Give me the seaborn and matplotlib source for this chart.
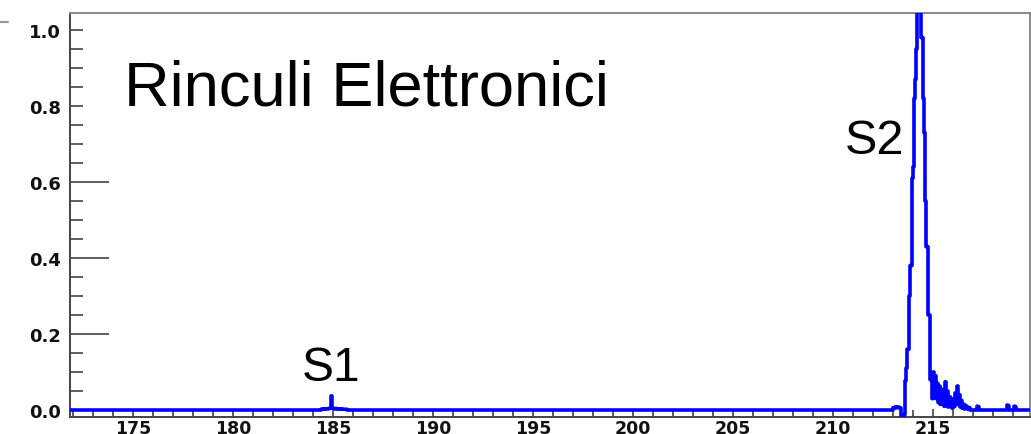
import numpy as np
import pandas as pd
import matplotlib
matplotlib.use("Agg")
import matplotlib.pyplot as plt
import seaborn as sns
from matplotlib.ticker import MultipleLocator, FormatStrFormatter
from matplotlib.patches import Rectangle
from matplotlib.lines import Line2D

# Histogram binning (drift time axis)
x_min, x_max = 171.85, 219.85
bin_width = 0.05

# S1 pulse: left bin edges and contents
s1_edges = [184.40, 184.45, 184.50, 184.55, 184.60, 184.65, 184.70, 184.75, 184.80, 184.85,
            184.90, 184.95, 185.00, 185.05, 185.10, 185.15, 185.20, 185.25, 185.30, 185.35,
            185.40, 185.45, 185.50, 185.55, 185.60, 185.65]
s1_counts = [0.002, 0.002, 0.003, 0.002, 0.003, 0.003, 0.003, 0.004, 0.004, 0.005,
             0.037, 0.005, 0.004, 0.004, 0.003, 0.004, 0.003, 0.003, 0.003, 0.002,
             0.003, 0.002, 0.002, 0.002, 0.002, 0.002]

# S2 pulse: left bin edges and contents
s2_edges = [213.00, 213.05, 213.10, 213.15, 213.20, 213.25, 213.30, 213.35, 213.40, 213.45,
            213.50, 213.55, 213.60, 213.65, 213.70, 213.75, 213.80, 213.85, 213.90, 213.95,
            214.00, 214.05, 214.10, 214.15, 214.20, 214.25, 214.30, 214.35, 214.40, 214.45,
            214.50, 214.55, 214.60, 214.65, 214.70, 214.75, 214.80, 214.85, 214.90, 214.95]
s2_counts = [0.006, 0.006, 0.008, 0.006, 0.007, 0.008, 0.006, 0.005, -0.015, -0.015,
             -0.015, -0.012, 0.077, 0.110, 0.160, 0.160, 0.300, 0.380, 0.380, 0.610,
             0.640, 0.820, 0.870, 0.950, 1.080, 1.120, 1.050, 1.100, 0.980, 0.980,
             0.820, 0.730, 0.550, 0.430, 0.430, 0.250, 0.250, 0.080, 0.080, 0.030]

# S2 tail (late electrons): left bin edges and contents
tail_edges = [215.00, 215.05, 215.10, 215.15, 215.20, 215.25, 215.30, 215.35, 215.40, 215.45,
              215.50, 215.55, 215.60, 215.65, 215.70, 215.75, 215.80, 215.85, 215.90, 215.95,
              216.00, 216.05, 216.10, 216.15, 216.20, 216.25, 216.30, 216.35, 216.40, 216.45,
              216.50, 216.55, 216.60, 216.65, 216.70, 216.75, 216.80,
              217.20, 217.25, 218.70, 218.75, 219.05, 219.10]
tail_counts = [0.100, 0.040, 0.090, 0.030, 0.070, 0.020, 0.063, 0.015, 0.055, 0.020,
               0.047, 0.010, 0.074, 0.020, 0.050, 0.008, 0.035, 0.012, 0.030, 0.005,
               0.020, 0.010, 0.045, 0.015, 0.063, 0.015, 0.040, 0.008, 0.025, 0.005,
               0.015, 0.003, 0.012, 0.004, 0.008, 0.002, 0.006,
               0.010, 0.008, 0.013, 0.010, 0.010, 0.008]

# Fill the histogram
n_bins = int(round((x_max - x_min) / bin_width))
edges = x_min + bin_width * np.arange(n_bins + 1)
counts = np.zeros(n_bins)
for e_list, c_list in ((s1_edges, s1_counts), (s2_edges, s2_counts), (tail_edges, tail_counts)):
    for e, c in zip(e_list, c_list):
        idx = int(round((e - x_min) / bin_width))
        counts[idx] = c

hist = pd.DataFrame({"t": edges, "amp": np.append(counts, counts[-1])})

sns.set_theme(style="white")
plt.rcParams["font.family"] = ["DejaVu Sans"]

W, H = 1031, 435
fig = plt.figure(figsize=(W / 100, H / 100), dpi=100)
ax = fig.add_axes([70 / W, (H - 418) / H, 960 / W, 404 / H])

sns.lineplot(data=hist, x="t", y="amp", ax=ax, color="#0000ff", linewidth=2.6,
             drawstyle="steps-post", zorder=3, estimator=None, sort=False)

ax.set_xlim(x_min, x_max)
ax.set_ylim(-0.0184, 1.0447)
ax.set_xlabel("")
ax.set_ylabel("")

# Axis ticks
ax.xaxis.set_major_locator(MultipleLocator(5))
ax.xaxis.set_minor_locator(MultipleLocator(1))
ax.yaxis.set_major_locator(MultipleLocator(0.2))
ax.yaxis.set_minor_locator(MultipleLocator(0.05))
ax.yaxis.set_major_formatter(FormatStrFormatter("%.1f"))

tick_col = "#333333"
ax.tick_params(axis="x", which="both", direction="in", bottom=True, top=False,
               color=tick_col, width=1.1, labelsize=12.5, pad=1.5)
ax.tick_params(axis="x", which="major", length=5.5)
ax.tick_params(axis="x", which="minor", length=5)
ax.tick_params(axis="y", which="both", direction="in", left=True, right=False,
               color=tick_col, width=1.1, labelsize=13, pad=6.5)
ax.tick_params(axis="y", which="major", length=28)
ax.tick_params(axis="y", which="minor", length=9.4)
for lab in ax.get_xticklabels() + ax.get_yticklabels():
    lab.set_fontweight("bold")
    lab.set_color("#111111")

for side in ("left", "bottom"):
    ax.spines[side].set_color("#444444")
    ax.spines[side].set_linewidth(1.4)
for side in ("top", "right"):
    ax.spines[side].set_color("#888888")
    ax.spines[side].set_linewidth(1.4)

# White label box behind the title text
ax.add_patch(Rectangle((172.5, 0.755), 26.5, 0.27, facecolor="white",
                       edgecolor="none", zorder=2.8, clip_on=True))

label_font = ["Liberation Sans", "DejaVu Sans"]
ax.text(174.55, 0.803, "Rinculi Elettronici", fontsize=45.5, family=label_font,
        color="black", va="baseline", ha="left", zorder=4)
ax.text(183.45, 0.079, "S1", fontsize=34.5, family=label_font,
        color="black", va="baseline", ha="left", zorder=4)
ax.text(210.6, 0.676, "S2", fontsize=35, family=label_font,
        color="black", va="baseline", ha="left", zorder=4)

# Small gray mark at the top-left corner
fig.add_artist(Line2D([0, 8 / W], [1 - 23 / H, 1 - 23 / H], color="#999999", linewidth=1.5))

fig.savefig("out.png", dpi=100)
